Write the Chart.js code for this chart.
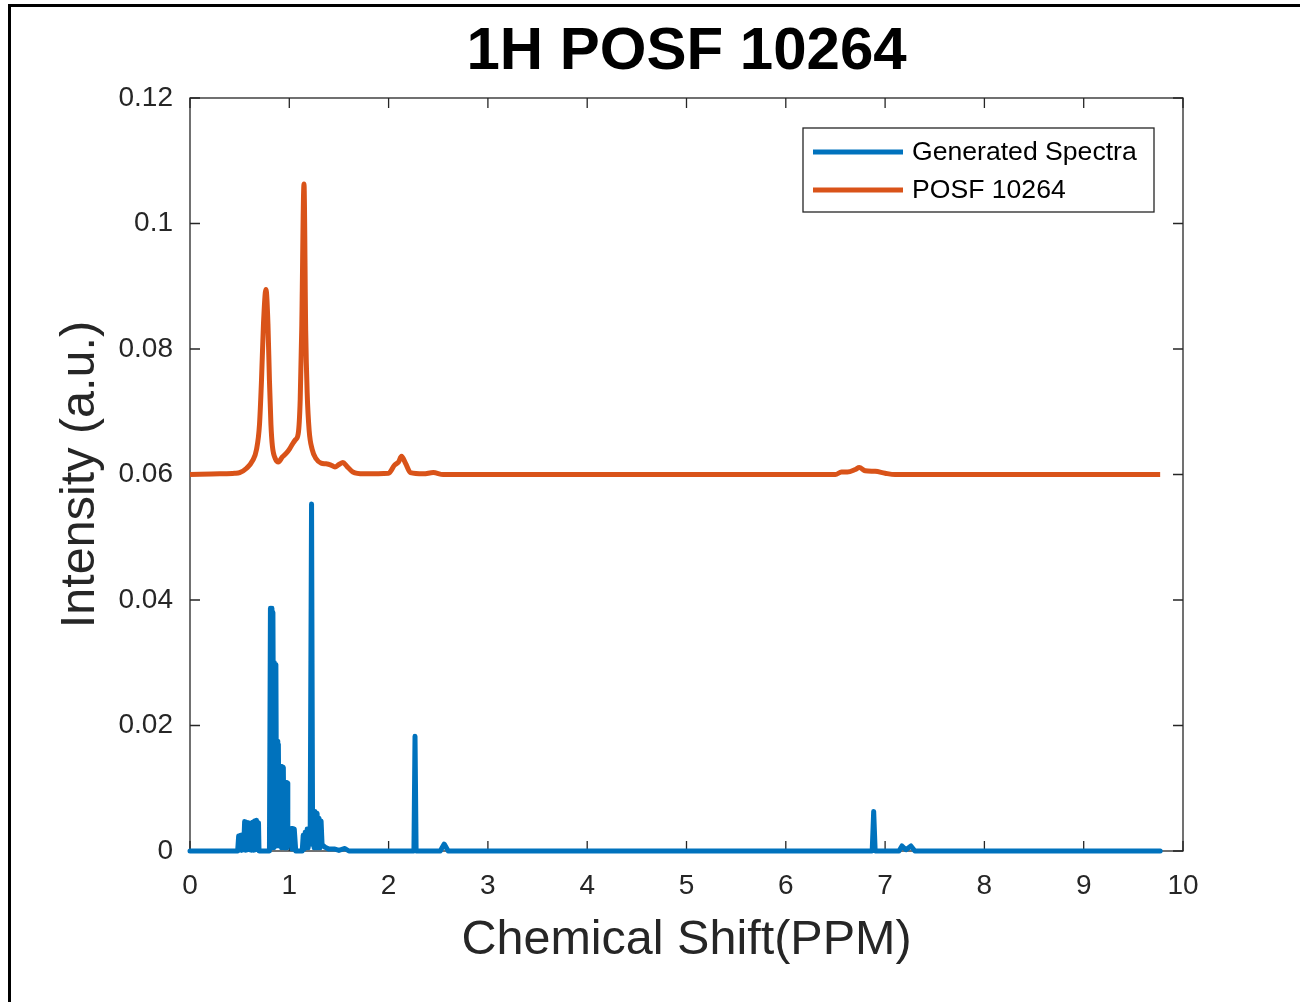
<!DOCTYPE html>
<html><head><meta charset="utf-8">
<script src="https://cdn.jsdelivr.net/npm/chart.js@4.4.1/dist/chart.umd.min.js"></script>
<style>
html,body{margin:0;padding:0;background:#fff;overflow:hidden}
#wrap{position:relative;width:1300px;height:1002px;overflow:hidden}
#frame{position:absolute;left:8px;top:4px;width:1310px;height:1010px;border-top:3px solid #000;border-left:3px solid #000;pointer-events:none}
canvas{position:absolute;left:0;top:0}
</style></head><body>
<div id="wrap"><canvas id="c" width="1300" height="1002"></canvas><div id="frame"></div></div>
<script>
// ---- data ----
const chartTitle = '1H POSF 10264';
const xAxisTitle = 'Chemical Shift(PPM)';
const yAxisTitle = 'Intensity (a.u.)';
const seriesNames = ['Generated Spectra', 'POSF 10264'];
const seriesColors = ['#0072BD', '#D95319'];
const xTicks = [0,1,2,3,4,5,6,7,8,9,10];
const yTicks = [0,0.02,0.04,0.06,0.08,0.1,0.12];
const yTickLabels = ['0','0.02','0.04','0.06','0.08','0.1','0.12'];

// Generated spectra (blue): dense sharp lines
const genPPM = [0,0.48,0.49,0.50,0.51,0.52,0.53,0.54,0.55,0.56,0.57,0.58,0.59,0.60,0.61,0.62,0.63,0.64,0.65,0.66,0.67,0.68,0.69,0.695,
  0.80,0.81,0.82,0.825,0.83,0.835,0.845,0.85,0.858,0.865,0.872,0.878,0.884,0.89,0.897,0.903,0.91,0.915,0.922,0.928,0.935,0.94,0.947,0.955,0.962,0.968,0.975,0.98,0.985,0.99,1.00,1.02,1.027,1.035,1.042,1.05,1.065,
  1.13,1.14,1.15,1.16,1.17,1.18,1.19,1.20,1.21,1.224,1.235,1.24,1.25,1.26,1.27,1.28,1.29,1.30,1.31,1.32,1.33,1.36,1.40,1.46,1.50,1.56,1.60,
  2.255,2.266,2.277,2.52,2.56,2.60,6.87,6.885,6.90,7.14,7.17,7.21,7.26,7.30,9.77];
const genInt = [0,0,0.0024,0.0002,0.0025,0.0001,0.0026,0.0002,0.0047,0.0001,0.0046,0.0002,0.0045,0.0002,0.0044,0.0001,0.0046,0.0001,0.0048,0.0002,0.0049,0.0002,0.0045,0,
  0,0.0387,0.0005,0.0387,0.0010,0.0380,0.0005,0.0300,0.0010,0.0297,0.0008,0.0175,0.0010,0.0170,0.0008,0.0120,0.0008,0.0135,0.0005,0.0134,0.0008,0.0133,0.0005,0.0110,0.0005,0.0109,0.0005,0.0108,0.0010,0.0030,0.0010,0.0036,0.0003,0.0036,0.0003,0.0035,0,
  0,0.0025,0.0003,0.0030,0.0005,0.0035,0.0005,0.0032,0.0020,0.0553,0.0010,0.0060,0.0005,0.0063,0.0005,0.0060,0.0005,0.0052,0.0005,0.0048,0.0010,0.0006,0.0003,0.0003,0.0001,0.0004,0,
  0,0.0183,0,0,0.0011,0,0,0.0063,0,0,0.0008,0.0002,0.0008,0,0];

// POSF 10264 measured (orange)
const posfPPM = [0,0.30,0.45,0.50,0.57,0.63,0.67,0.70,0.72,0.74,0.765,0.785,0.80,0.815,0.83,0.86,0.89,0.93,0.97,1.00,1.03,1.06,1.09,1.11,1.125,1.148,1.165,1.18,1.20,1.23,1.27,1.32,1.37,1.42,1.46,1.50,1.54,1.58,1.64,1.75,2.00,2.06,2.10,2.13,2.17,2.22,2.35,2.45,2.55,6.50,6.56,6.62,6.70,6.74,6.80,6.90,7.00,7.10,9.77];
const posfInt = [0.0600,0.0601,0.0602,0.0603,0.0610,0.0622,0.0640,0.0680,0.0750,0.0840,0.0895,0.0840,0.0750,0.0680,0.0645,0.0625,0.0620,0.0628,0.0634,0.0640,0.0648,0.0655,0.0665,0.0720,0.0830,0.1063,0.0830,0.0730,0.0670,0.0640,0.0625,0.0618,0.0617,0.0615,0.0612,0.0616,0.0619,0.0613,0.0604,0.0601,0.0602,0.0615,0.0620,0.0629,0.0618,0.0603,0.0601,0.0603,0.0600,0.0600,0.0604,0.0604,0.0608,0.0611,0.0606,0.0605,0.0602,0.0600,0.0600];

const FONT = "'Liberation Sans', Arial, Helvetica, sans-serif";
const AXIS_COLOR = '#262626';

const toPts = (xs, ys) => xs.map((x, i) => ({x: x, y: ys[i]}));

const boxPlugin = {
  id: 'matlabBox',
  beforeDatasetsDraw(chart) {
    const {ctx, chartArea: a, scales} = chart;
    ctx.save();
    ctx.strokeStyle = AXIS_COLOR;
    ctx.lineWidth = 1.3;
    ctx.strokeRect(a.left, a.top, a.right - a.left, a.bottom - a.top);
    const tl = 10;
    ctx.beginPath();
    xTicks.forEach(v => {
      const px = scales.x.getPixelForValue(v);
      ctx.moveTo(px, a.bottom); ctx.lineTo(px, a.bottom - tl);
      ctx.moveTo(px, a.top); ctx.lineTo(px, a.top + tl);
    });
    yTicks.forEach(v => {
      const py = scales.y.getPixelForValue(v);
      ctx.moveTo(a.left, py); ctx.lineTo(a.left + tl, py);
      ctx.moveTo(a.right, py); ctx.lineTo(a.right - tl, py);
    });
    ctx.stroke();
    ctx.restore();
  }
};

const legendPlugin = {
  id: 'matlabLegend',
  afterDatasetsDraw(chart) {
    const {ctx, chartArea: a} = chart;
    const w = 351, h = 84;
    const x0 = a.right - 29 - w, y0 = a.top + 30;
    ctx.save();
    ctx.fillStyle = '#fff';
    ctx.fillRect(x0, y0, w, h);
    ctx.strokeStyle = AXIS_COLOR;
    ctx.lineWidth = 1.3;
    ctx.strokeRect(x0, y0, w, h);
    chart.data.datasets.forEach((ds, i) => {
      const yy = y0 + 24 + i * 38;
      ctx.strokeStyle = ds.borderColor;
      ctx.lineWidth = ds.borderWidth;
      ctx.beginPath();
      ctx.moveTo(x0 + 10, yy); ctx.lineTo(x0 + 100, yy);
      ctx.stroke();
      ctx.fillStyle = '#000';
      ctx.font = '26.6px ' + FONT;
      ctx.textBaseline = 'middle';
      ctx.textAlign = 'left';
      ctx.fillText(ds.label, x0 + 109, yy + 1);
    });
    ctx.restore();
  }
};

new Chart(document.getElementById('c'), {
  type: 'line',
  data: {
    datasets: [
      {label: seriesNames[0], data: toPts(genPPM, genInt), borderColor: seriesColors[0], borderWidth: 5, pointRadius: 0, tension: 0, clip: false, borderJoinStyle: 'round', borderCapStyle: 'round'},
      {label: seriesNames[1], data: toPts(posfPPM, posfInt), borderColor: seriesColors[1], borderWidth: 5, pointRadius: 0, cubicInterpolationMode: 'monotone', clip: false, borderJoinStyle: 'round'}
    ]
  },
  options: {
    responsive: false,
    animation: false,
    devicePixelRatio: 1,
    layout: {padding: {left: 73, right: 0, top: 0, bottom: 0}},
    plugins: {
      legend: {display: false},
      tooltip: {enabled: false},
      title: {display: true, text: chartTitle, color: '#000', font: {family: FONT, size: 60, weight: 'bold', lineHeight: 1.2}, padding: {top: 16, bottom: 10}}
    },
    scales: {
      x: {
        type: 'linear', min: 0, max: 10,
        afterBuildTicks: s => { s.ticks = xTicks.map(v => ({value: v})); },
        afterFit: s => { s.height = 151; },
        grid: {display: false, drawTicks: false},
        border: {display: false},
        ticks: {color: AXIS_COLOR, font: {family: FONT, size: 28}, padding: 18, maxRotation: 0, autoSkip: false},
        title: {display: true, text: xAxisTitle, color: AXIS_COLOR, font: {family: FONT, size: 48.5, lineHeight: 1.2}, padding: {top: 0, bottom: 32}}
      },
      y: {
        type: 'linear', min: 0, max: 0.12,
        afterBuildTicks: s => { s.ticks = yTicks.map(v => ({value: v})); },
        afterFit: s => { s.width = 117; },
        grid: {display: false, drawTicks: false},
        border: {display: false},
        ticks: {color: AXIS_COLOR, font: {family: FONT, size: 28}, padding: 17, autoSkip: false,
          callback: (v, i) => yTickLabels[i]},
        title: {display: true, text: yAxisTitle, color: AXIS_COLOR, font: {family: FONT, size: 48.5, lineHeight: 1.2}, padding: {top: -21, bottom: 0}}
      },
      yRight: {
        type: 'linear', position: 'right', min: 0, max: 1,
        afterFit: s => { s.width = 117; },
        grid: {display: false, drawTicks: false},
        border: {display: false},
        ticks: {display: false}
      }
    }
  },
  plugins: [boxPlugin, legendPlugin]
});
</script>
</body></html>
